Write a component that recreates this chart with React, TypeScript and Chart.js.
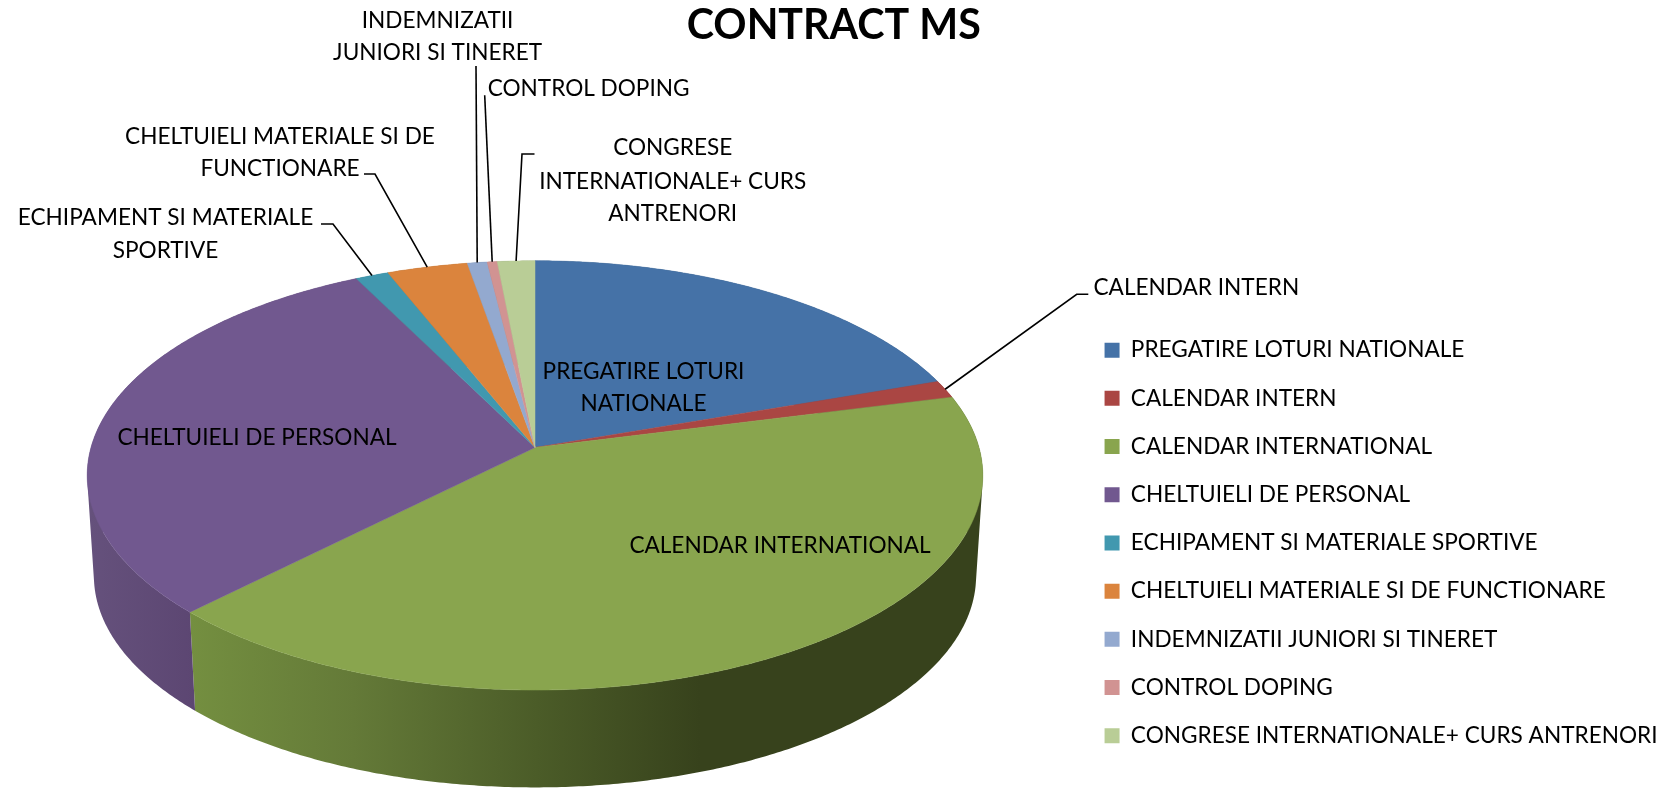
import React, { useEffect, useRef } from "react";
import { Chart, registerables } from "chart.js";

Chart.register(...registerables);

const TITLE = "CONTRACT MS";
const categories = [
  "PREGATIRE LOTURI NATIONALE",
  "CALENDAR INTERN",
  "CALENDAR INTERNATIONAL",
  "CHELTUIELI DE PERSONAL",
  "ECHIPAMENT SI MATERIALE SPORTIVE",
  "CHELTUIELI MATERIALE SI DE FUNCTIONARE",
  "INDEMNIZATII JUNIORI SI TINERET",
  "CONTROL DOPING",
  "CONGRESE INTERNATIONALE+ CURS ANTRENORI",
];
const values = [19.7, 1.33, 41.4, 30.1, 1.36, 3.3, 0.81, 0.41, 1.53];
const colors = ["#4572A7", "#AA4643", "#89A54E", "#71588F", "#4198AF", "#DB843D", "#93A9CF", "#D19392", "#B9CD96"];
const sideColors = ["#2f4d72", "#73302e", "#37421c", "#5f4a78", "#2c6777", "#955a29", "#64738d", "#8e6463", "#7e8b66"];

const FONT = "Lato";
const LABEL_SIZE = 22.6;

// Projection of the pie disk (perspective view)
const APEX_X = 535;
const APEX_Y = 447.5;
const RADIUS_X = 444;
const RADIUS_Y = 211;
const PERSPECTIVE = 0.13;
const BASE_SCALE = 0.985;
const BASE_DROP = 101;

// Label layout: lines, anchor and optional leader line elbows
type Lab = { lines: string[]; x: number; ys: number[]; align?: CanvasTextAlign; slice?: number; leader?: number[][] };
const labels: Lab[] = [
  { lines: ["PREGATIRE LOTURI", "NATIONALE"], x: 643.5, ys: [371.5, 403.5] },
  { lines: ["CALENDAR INTERN"], x: 1093.5, ys: [287.8], align: "left", slice: 1, leader: [[1076.7, 294.3], [1088.3, 294.3]] },
  { lines: ["CALENDAR INTERNATIONAL"], x: 780, ys: [545.5] },
  { lines: ["CHELTUIELI DE PERSONAL"], x: 257, ys: [437.5] },
  { lines: ["ECHIPAMENT SI MATERIALE", "SPORTIVE"], x: 165.5, ys: [218, 251], slice: 4, leader: [[333, 224], [321, 224]] },
  { lines: ["CHELTUIELI MATERIALE SI DE", "FUNCTIONARE"], x: 280, ys: [136.3, 168.3], slice: 5, leader: [[375, 174], [364, 174]] },
  { lines: ["INDEMNIZATII", "JUNIORI SI TINERET"], x: 437.6, ys: [20.3, 53], slice: 6, leader: [[476, 66]] },
  { lines: ["CONTROL DOPING"], x: 588.6, ys: [88.3], slice: 7, leader: [[484.7, 95.3]] },
  { lines: ["CONGRESE", "INTERNATIONALE+ CURS", "ANTRENORI"], x: 672.7, ys: [148, 181.3, 214], slice: 8, leader: [[522, 154], [534.5, 154]] },
];

function topRim(a: number): [number, number] {
  const u = Math.cos(a);
  const v = Math.sin(a);
  const w = 1 - PERSPECTIVE * v;
  return [APEX_X + (RADIUS_X * u) / w, APEX_Y + (RADIUS_Y * v) / w];
}
function baseRim(a: number): [number, number] {
  const [x, y] = topRim(a);
  return [APEX_X + (x - APEX_X) * BASE_SCALE, APEX_Y + (y - APEX_Y) * BASE_SCALE + BASE_DROP];
}
function samples(a0: number, a1: number): number[] {
  const n = Math.max(2, Math.ceil(((a1 - a0) / Math.PI) * 360));
  const out: number[] = [];
  for (let i = 0; i <= n; i++) out.push(a0 + ((a1 - a0) * i) / n);
  return out;
}
function signedArea(q: [number, number][]): number {
  let s = 0;
  q.forEach((p, i) => {
    const r = q[(i + 1) % q.length];
    s += p[0] * r[1] - r[0] * p[1];
  });
  return s;
}

const pie3d = {
  id: "pie3d",
  beforeDatasetsDraw(chart: any) {
    const ctx: CanvasRenderingContext2D = chart.ctx;
    const arcs = chart.getDatasetMeta(0).data;
    ctx.save();
    // side walls: swept quads between the upper and lower rim, one path per slice,
    // all wound the same way so that their union is filled
    arcs.forEach((arc: any, i: number) => {
      let fill: any = sideColors[i];
      if (i === 2) {
        const g = ctx.createLinearGradient(190, 0, 700, 0);
        g.addColorStop(0, "#748f40");
        g.addColorStop(0.32, "#647a38");
        g.addColorStop(0.68, "#4b5c28");
        g.addColorStop(1, "#37421c");
        fill = g;
      } else if (i === 3) {
        const g = ctx.createLinearGradient(90, 0, 195, 0);
        g.addColorStop(0, "#65517c");
        g.addColorStop(1, "#5c4672");
        fill = g;
      }
      ctx.fillStyle = fill;
      const angles = samples(arc.startAngle, arc.endAngle);
      ctx.beginPath();
      for (let k = 0; k + 1 < angles.length; k++) {
        const q: [number, number][] = [
          topRim(angles[k]),
          topRim(angles[k + 1]),
          baseRim(angles[k + 1]),
          baseRim(angles[k]),
        ];
        if (signedArea(q) < 0) q.reverse();
        q.forEach((p, j) => (j ? ctx.lineTo(p[0], p[1]) : ctx.moveTo(p[0], p[1])));
        ctx.closePath();
      }
      ctx.fill();
    });
    // top faces
    arcs.forEach((arc: any, i: number) => {
      ctx.beginPath();
      ctx.moveTo(APEX_X, APEX_Y);
      samples(arc.startAngle, arc.endAngle).forEach((a) => {
        const p = topRim(a);
        ctx.lineTo(p[0], p[1]);
      });
      ctx.closePath();
      ctx.fillStyle = colors[i];
      ctx.strokeStyle = colors[i];
      ctx.lineWidth = 0.5;
      ctx.fill();
      ctx.stroke();
    });
    ctx.restore();
    return false;
  },
  afterDraw(chart: any) {
    const ctx: CanvasRenderingContext2D = chart.ctx;
    const arcs = chart.getDatasetMeta(0).data;
    ctx.save();
    ctx.strokeStyle = "#000";
    ctx.lineWidth = 1.6;
    ctx.fillStyle = "#000";
    ctx.font = `${LABEL_SIZE}px ${FONT}`;
    ctx.textBaseline = "middle";
    labels.forEach((l) => {
      if (l.leader && l.slice !== undefined) {
        const arc = arcs[l.slice];
        const p = topRim((arc.startAngle + arc.endAngle) / 2);
        ctx.beginPath();
        ctx.moveTo(p[0], p[1]);
        l.leader.forEach((q) => ctx.lineTo(q[0], q[1]));
        ctx.stroke();
      }
      ctx.textAlign = l.align || "center";
      l.lines.forEach((t, i) => ctx.fillText(t, l.x, l.ys[i]));
    });
    ctx.restore();
  },
};

export default function App() {
  const ref = useRef<HTMLCanvasElement>(null);
  useEffect(() => {
    document.body.style.margin = "0";
    const chart = new Chart(ref.current!, {
      type: "pie",
      data: {
        labels: categories,
        datasets: [{ data: values, backgroundColor: colors, borderWidth: 0 }],
      },
      plugins: [pie3d],
      options: {
        animation: false,
        responsive: false,
        layout: { padding: { top: 0, left: 0, bottom: 0, right: 5.5 } },
        plugins: {
          tooltip: { enabled: false },
          title: {
            display: true,
            text: TITLE,
            color: "#000",
            font: { family: FONT, size: 41.2, weight: "bold" },
            padding: { top: 1, bottom: 262.8 },
          },
          legend: {
            display: true,
            fullSize: false,
            position: "right",
            align: "start",
            labels: {
              color: "#000",
              boxWidth: 15,
              boxHeight: 15,
              padding: 25.6,
              font: { family: FONT, size: LABEL_SIZE },
            },
          },
        },
      },
    } as any);
    return () => chart.destroy();
  }, []);
  return <canvas ref={ref} width={1673} height={789} style={{ display: "block" }} />;
}
